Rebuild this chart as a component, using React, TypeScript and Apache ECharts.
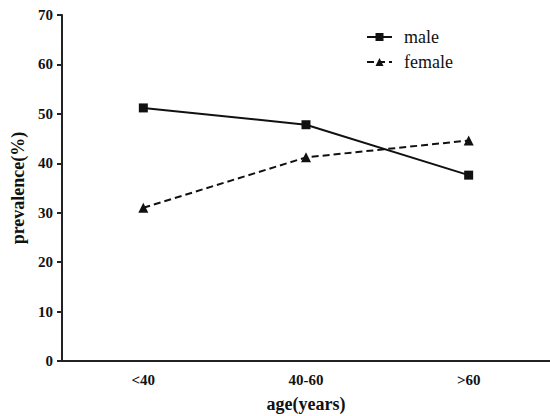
import React, { useEffect, useRef } from "react";
import * as echarts from "echarts";

const categories = ["<40", "40-60", ">60"];
const maleValues = [51.2, 47.8, 37.6];
const femaleValues = [31.0, 41.2, 44.6];

export default function App() {
  const ref = useRef<HTMLDivElement>(null);
  useEffect(() => {
    if (!ref.current) return;
    const chart = echarts.init(ref.current, null, { renderer: "svg" });
    const font = "Liberation Serif";
    chart.setOption({
      animation: false,
      backgroundColor: "#fff",
      textStyle: { fontFamily: font },
      grid: { left: 62, right: 0, top: 15, bottom: 55, outerBoundsMode: "none", containLabel: false },
      legend: {
        orient: "vertical",
        left: 361,
        top: 23,
        itemWidth: 25,
        itemHeight: 10,
        itemGap: 7,
        textStyle: { fontFamily: font, fontSize: 18, lineHeight: 18, color: "#111", padding: [0, 0, 0, 7] },
        data: ["male", "female"],
      },
      xAxis: {
        type: "category",
        data: categories,
        boundaryGap: true,
        name: "age(years)",
        nameLocation: "middle",
        nameGap: 34,
        nameTextStyle: { fontFamily: font, fontSize: 18, fontWeight: "bold", color: "#111" },
        axisLine: { lineStyle: { color: "#222", width: 2 } },
        axisTick: { alignWithLabel: true, length: 5, lineStyle: { color: "#222", width: 2 } },
        axisLabel: { fontFamily: font, fontSize: 15, fontWeight: "bold", color: "#111", margin: 11 },
        splitLine: { show: false },
      },
      yAxis: {
        type: "value",
        min: 0,
        max: 70,
        interval: 10,
        name: "prevalence(%)",
        nameLocation: "middle",
        nameGap: 31,
        nameTextStyle: { fontFamily: font, fontSize: 18, fontWeight: "bold", color: "#111" },
        axisLine: { show: true, lineStyle: { color: "#222", width: 2 } },
        axisTick: { show: true, length: 5, lineStyle: { color: "#222", width: 2 } },
        axisLabel: { fontFamily: font, fontSize: 15, fontWeight: "bold", color: "#111", margin: 9 },
        splitLine: { show: false },
      },
      series: [
        {
          name: "male",
          type: "line",
          data: maleValues,
          symbol: "rect",
          symbolSize: 9,
          lineStyle: { color: "#111", width: 2 },
          itemStyle: { color: "#111" },
        },
        {
          name: "female",
          type: "line",
          data: femaleValues,
          symbol: "triangle",
          symbolSize: 10,
          lineStyle: { color: "#111", width: 2, type: [7, 4] },
          itemStyle: { color: "#111" },
        },
      ],
    });
    return () => chart.dispose();
  }, []);
  return <div ref={ref} style={{ width: 550, height: 416, position: "absolute", left: 0, top: 0 }} />;
}
